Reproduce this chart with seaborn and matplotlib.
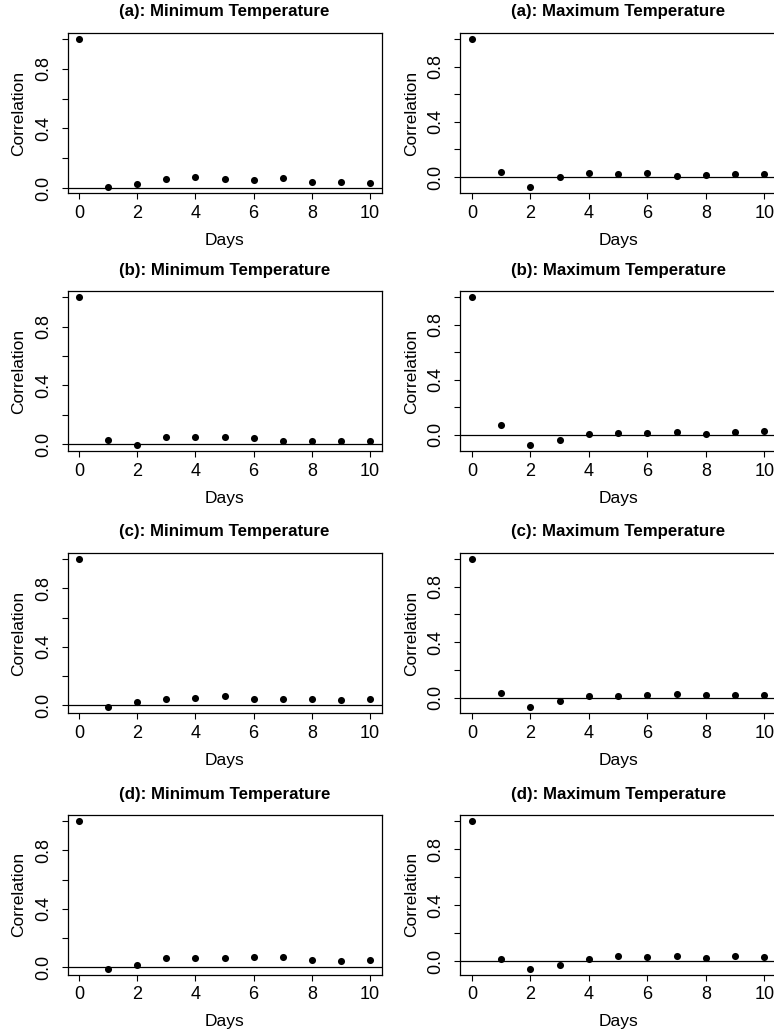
import numpy as np
import pandas as pd
import matplotlib
matplotlib.use("Agg")
import matplotlib.pyplot as plt
import seaborn as sns

# Lags (days) and autocorrelation values
days = list(range(11))

min_a = [1.0, 0.007, 0.025, 0.060, 0.076, 0.058, 0.052, 0.067, 0.040, 0.040, 0.031]
max_a = [1.0, 0.034, -0.073, 0.002, 0.029, 0.024, 0.032, 0.010, 0.017, 0.024, 0.022]

min_b = [1.0, 0.027, -0.005, 0.050, 0.050, 0.048, 0.045, 0.020, 0.023, 0.025, 0.020]
max_b = [1.0, 0.068, -0.075, -0.041, 0.005, 0.012, 0.012, 0.019, 0.007, 0.019, 0.024]

min_c = [1.0, -0.011, 0.027, 0.046, 0.048, 0.066, 0.043, 0.046, 0.041, 0.037, 0.043]
max_c = [1.0, 0.036, -0.068, -0.024, 0.012, 0.012, 0.019, 0.027, 0.022, 0.022, 0.022]

min_d = [1.0, -0.009, 0.018, 0.064, 0.066, 0.064, 0.068, 0.068, 0.053, 0.046, 0.048]
max_d = [1.0, 0.017, -0.052, -0.024, 0.017, 0.036, 0.033, 0.036, 0.026, 0.038, 0.031]

panel_labels = ["(a)", "(b)", "(c)", "(d)"]
min_series = [min_a, min_b, min_c, min_d]
max_series = [max_a, max_b, max_c, max_d]

y_ticks = [0.0, 0.2, 0.4, 0.6, 0.8, 1.0]
y_ticklabels = ["0.0", "", "0.4", "", "0.8", ""]
x_ticks = [0, 2, 4, 6, 8, 10]

# Style: plain white, R-like, all text black
sns.set_theme(style="ticks")
plt.rcParams["font.family"] = ["Liberation Sans", "DejaVu Sans"]
plt.rcParams["text.color"] = "black"
plt.rcParams["axes.labelcolor"] = "black"
plt.rcParams["xtick.color"] = "black"
plt.rcParams["ytick.color"] = "black"

W, H = 774, 1034
fig = plt.figure(figsize=(W / 100, H / 100), dpi=100)

# Axes boxes in pixels: (left, right) per column, (top, bottom) per row
col_px = [(67.5, 381.6), (460.3, 776.0)]
row_px = [(33.0, 193.0), (291.3, 451.0), (553.0, 713.0), (815.3, 974.5)]


def draw_panel(ax, values, title):
    """One autocorrelation panel in base-R look"""
    df = pd.DataFrame({"Days": days, "Correlation": values})
    ax.axhline(0, color="black", lw=0.9, zorder=1)
    sns.scatterplot(data=df, x="Days", y="Correlation", ax=ax,
                    color="black", s=26, linewidth=0, zorder=3)

    # R default 4% axis expansion
    lo, hi = min(values), max(values)
    pad = 0.04 * (hi - lo)
    ax.set_ylim(lo - pad, hi + pad)
    ax.set_xlim(-0.4, 10.4)

    ax.set_xticks(x_ticks)
    ax.set_xticklabels([str(t) for t in x_ticks])
    ax.set_yticks(y_ticks)
    ax.set_yticklabels(y_ticklabels, rotation=90, va="center")

    ax.tick_params(axis="both", direction="out", length=4.3, width=0.8,
                   labelsize=13, color="black", labelcolor="black")
    ax.tick_params(axis="x", pad=4)
    ax.tick_params(axis="y", pad=7)

    for side in ["left", "right", "top", "bottom"]:
        ax.spines[side].set_visible(True)
        ax.spines[side].set_linewidth(0.9)
        ax.spines[side].set_color("black")

    ax.set_xlabel("Days", fontsize=12.5, labelpad=8, color="black")
    ax.set_ylabel("Correlation", fontsize=12.5, labelpad=6, color="black")
    ax.set_title(title, fontsize=12.2, fontweight="bold", pad=12, color="black")
    ax.set_facecolor("white")


for r, lab in enumerate(panel_labels):
    top, bottom = row_px[r]
    for c, (series, name) in enumerate([(min_series, "Minimum Temperature"),
                                        (max_series, "Maximum Temperature")]):
        left, right = col_px[c]
        ax = fig.add_axes([left / W, 1 - bottom / H,
                           (right - left) / W, (bottom - top) / H])
        draw_panel(ax, series[r], f"{lab}: {name}")

fig.savefig("out.png", dpi=100, facecolor="white")
